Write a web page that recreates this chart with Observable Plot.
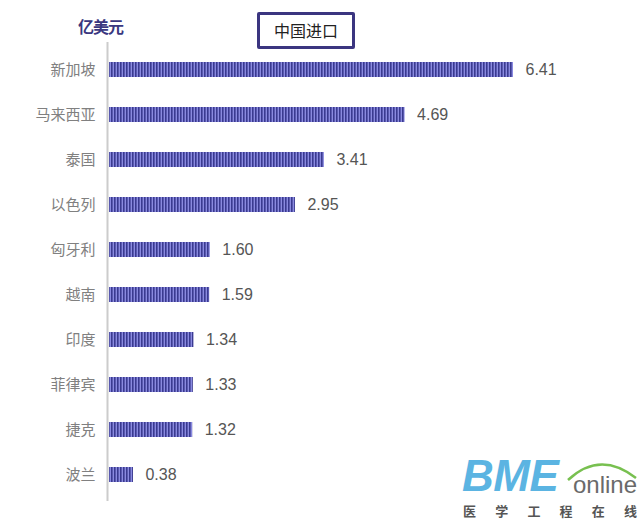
<!DOCTYPE html>
<html><head><meta charset="utf-8">
<script src="https://cdn.jsdelivr.net/npm/d3@7"></script>
<script src="https://cdn.jsdelivr.net/npm/@observablehq/plot@0.6"></script>
<style>
body{margin:0;background:#fff;}
#wrap{position:relative;width:640px;height:521px;overflow:hidden;font-family:"Noto Sans CJK SC","Noto Sans",sans-serif;}
#chart svg{display:block;}
#unit{position:absolute;left:78px;top:14px;font-size:16px;font-weight:bold;color:#3a3780;letter-spacing:-1px;}
#box{position:absolute;left:257px;top:12px;width:92px;height:31px;border:3px solid #3b3580;border-radius:2px;font-size:16px;color:#222;text-align:center;line-height:31px;}
#logo{position:absolute;left:460px;top:452px;width:180px;height:69px;}
#bme{position:absolute;left:2px;top:-1px;line-height:normal;font-family:"Liberation Sans",sans-serif;font-weight:bold;font-style:italic;font-size:44px;color:#5bb4e2;letter-spacing:-0.5px;}
#online{position:absolute;left:113px;top:19px;line-height:normal;font-family:"Liberation Sans",sans-serif;font-size:24px;color:#6a6a6a;}
#cn{position:absolute;left:3px;top:49px;line-height:normal;width:174px;display:flex;justify-content:space-between;font-size:13px;color:#555;font-weight:bold;}
#arc{position:absolute;left:100px;top:4px;}
</style></head>
<body><div id="wrap">
<div id="chart"></div>
<div id="unit">亿美元</div>
<div id="box">中国进口</div>
<div id="logo">
<svg id="arc" width="80" height="30"><path d="M8,24 Q40,-6 76,22" fill="none" stroke="#78c050" stroke-width="2.5"/></svg>
<div id="bme">BME</div><div id="online">online</div>
<div id="cn"><span>医</span><span>学</span><span>工</span><span>程</span><span>在</span><span>线</span></div>
</div>
</div>
<script>
const countries = ["新加坡","马来西亚","泰国","以色列","匈牙利","越南","印度","菲律宾","捷克","波兰"];
const values = [6.41,4.69,3.41,2.95,1.60,1.59,1.34,1.33,1.32,0.38];
const data = countries.map((c,i)=>({country:c,value:values[i]}));

const plot = Plot.plot({
  width:640, height:521,
  marginLeft:109, marginRight:127, marginTop:42, marginBottom:20,
  style:{background:"transparent", fontFamily:"'Noto Sans CJK SC',sans-serif"},
  x:{domain:[0,6.41], axis:null},
  y:{domain:countries, paddingInner:0.67, paddingOuter:0.335, label:null},
  marks:[
    Plot.barX(data,{x:"value", y:"country", fill:"url(#stripes)"}),
    Plot.ruleX([0],{dx:-2, stroke:"#cccccc", strokeWidth:2}),
    Plot.text(data,{x:"value", y:"country", text:d=>d.value.toFixed(2), textAnchor:"start", dx:12, fontSize:16, fill:"#555", fontFamily:"'Liberation Sans',Arial,sans-serif"}),
    Plot.axisY({tickSize:0, tickPadding:14, fontSize:15, color:"#808080", label:null})
  ]
});
document.getElementById("chart").appendChild(plot);
const svg = d3.select(plot);
const defs = svg.insert("defs",":first-child");
const p = defs.append("pattern").attr("id","stripes").attr("patternUnits","userSpaceOnUse").attr("width",3).attr("height",10);
p.append("rect").attr("width",3).attr("height",10).attr("fill","#8a8ae0");
p.append("rect").attr("width",1.6).attr("height",10).attr("fill","#3a3a90");
</script>
</body></html>
